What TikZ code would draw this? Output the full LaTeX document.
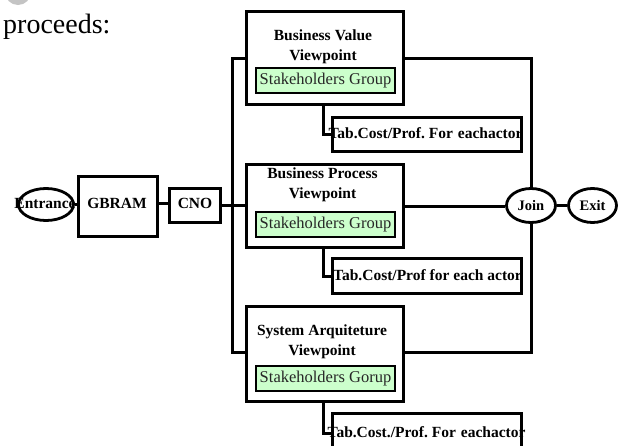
\documentclass[tikz,border=0pt]{standalone}
\usepackage{fontspec}
\setmainfont{Liberation Serif}
\usetikzlibrary{shapes.geometric}
\definecolor{grpfill}{HTML}{CCFFCC}
\definecolor{bullet}{HTML}{C4C4C4}
\begin{document}
\begin{tikzpicture}[x=1pt,y=-1pt,
  box/.style={draw, rectangle, inner sep=0pt, line width=3.2pt},
  pill/.style={draw, ellipse, inner sep=0pt, line width=2.8pt,
    font=\fontsize{14.5}{15}\selectfont\bfseries},
  lbl/.style={inner sep=0pt, font=\fontsize{15.5}{20}\selectfont\bfseries},
  grp/.style={draw, rectangle, fill=grpfill, line width=2.6pt,
    minimum width=139pt, minimum height=25pt, inner sep=0pt,
    font=\fontsize{16.5}{17}\selectfont, text=black!85},
  wire/.style={line width=3pt},
  body/.style={inner sep=0pt, anchor=base west, font=\fontsize{28}{30}\selectfont}
]
\useasboundingbox (0,0) rectangle (621,445);
\clip (0,0) rectangle (621,445);

% running text above the figure
\fill[bullet] (18,-8) circle (13pt);
\node[body, text=black!55] (hdr) at (63,-2.5) {Our method can be described as it};
\node[body] (proc) at (3,33) {proceeds:};

% left chain
\node[pill, minimum width=55pt, minimum height=32pt] (ent) at (46,204.5) {};
\node[lbl] (entt) at (45,203) {Entrance};
\node[box, minimum width=79pt, minimum height=60pt] (gb) at (118,206.5) {};
\node[lbl] (gbt) at (117,203) {GBRAM};
\node[box, minimum width=51pt, minimum height=34pt] (cno) at (195,205.5) {};
\node[lbl] (cnot) at (195,203.5) {CNO};

% viewpoints
\node[box, minimum width=157pt, minimum height=93pt] (bv) at (325,58) {};
\node[lbl, align=center] (bvt) at (323,47) {Business\hspace{4pt}Value\\Viewpoint};
\node[grp] (bvg) at (325.5,80.5) {Stakeholders Group};

\node[box, minimum width=157pt, minimum height=83pt] (bp) at (325,206) {};
\node[lbl, align=center] (bpt) at (322.5,185) {Business Process\\Viewpoint};
\node[grp] (bpg) at (325.5,224.5) {Stakeholders Group};

\node[box, minimum width=157pt, minimum height=95pt] (sa) at (325,354) {};
\node[lbl, align=center] (sat) at (322,341.5) {System\hspace{4pt}Arquiteture\\Viewpoint};
\node[grp] (sag) at (325.5,378.5) {Stakeholders Gorup};

% cost / profit tables
\node[box, minimum width=189pt, minimum height=34pt] (t1) at (427,134.5) {};
\node[lbl] (t1t) at (425.5,133) {Tab.Cost/Prof.\ For\hspace{5pt}eachactor};
\node[box, minimum width=189pt, minimum height=35pt] (t2) at (427,276) {};
\node[lbl] (t2t) at (427.5,275) {Tab.Cost/Prof for\hspace{4pt}each actor};
\node[box, minimum width=189pt, minimum height=40pt] (t3) at (427,433.5) {};
\node[lbl] (t3t) at (426.5,432) {Tab.Cost./Prof.\ For\hspace{5pt}eachactor};

% join / exit
\node[pill, minimum width=49pt, minimum height=34pt] (join) at (531,205.5) {Join};
\node[pill, minimum width=48pt, minimum height=34pt] (exit) at (592.5,205.5) {Exit};

% connectors
\coordinate (bus) at (232,0);
\draw[wire] (ent.east) -- (ent.east -| gb.west);
\draw[wire] ([yshift=3pt]gb.east) -- ([yshift=3pt]gb.east -| cno.west);
\draw[wire] (cno.east) -- (cno.east -| bp.west);
\draw[wire] (bv.west) -- (bv.west -| bus) -- ([yshift=2pt]sa.west -| bus) -- ([yshift=2pt]sa.west);
\draw[wire] (bv.east) -| (join.north);
\draw[wire] ([yshift=2pt]sa.east) -| (join.south);
\draw[wire] (bp.east) -- (bp.east -| join.west);
\draw[wire] (join.east) -- (exit.west);
\draw[wire] ([xshift=-2pt]bv.south) |- (t1.west);
\draw[wire] ([xshift=-2pt]bp.south) |- (t2.west);
\draw[wire] ([xshift=-2pt]sa.south) |- (t3.west);
\end{tikzpicture}
\end{document}
